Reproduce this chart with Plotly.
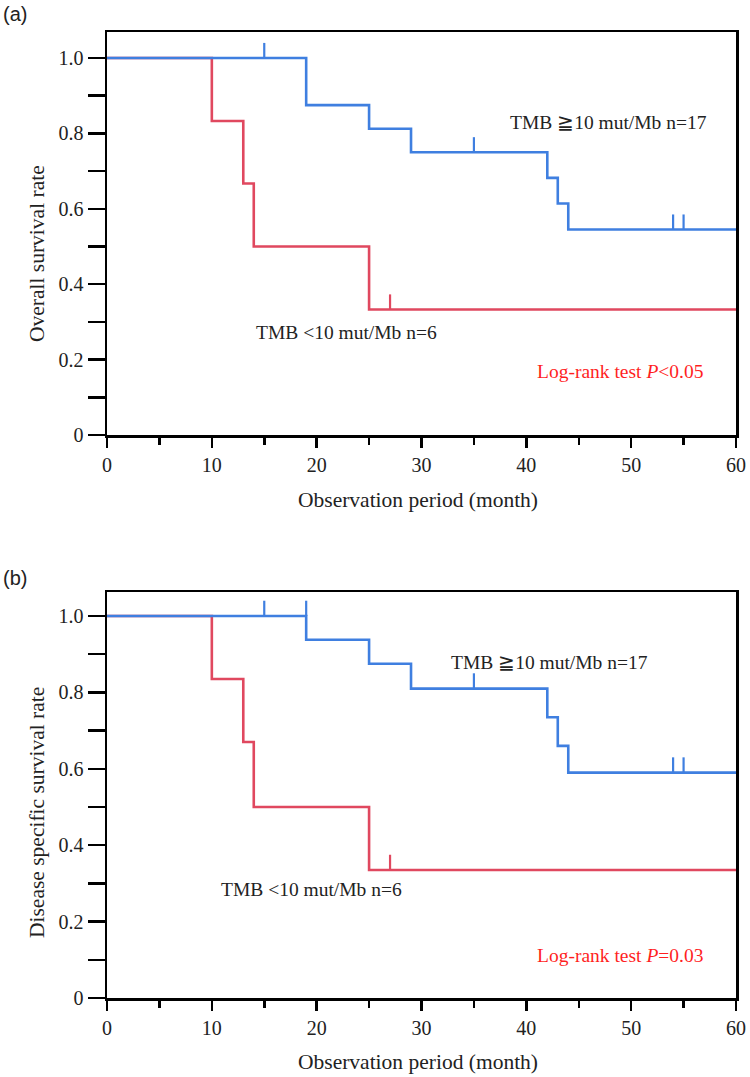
import plotly.graph_objects as go

W, H = 750, 1077

# ---------------- data ----------------
# (a) Overall survival
os_high_time = [0, 19, 25, 29, 42, 43, 44, 60]
os_high_surv = [1.0, 0.875, 0.8125, 0.75, 0.682, 0.614, 0.545, 0.545]
os_high_censor = [15, 35, 54, 55]

os_low_time = [0, 10, 13, 14, 25, 60]
os_low_surv = [1.0, 0.833, 0.667, 0.5, 0.333, 0.333]
os_low_censor = [27]

# (b) Disease specific survival
dss_high_time = [0, 19, 25, 29, 42, 43, 44, 60]
dss_high_surv = [1.0, 0.938, 0.875, 0.81, 0.735, 0.66, 0.59, 0.59]
dss_high_censor = [15, 19, 35, 54, 55]

dss_low_time = [0, 10, 13, 14, 25, 60]
dss_low_surv = [1.0, 0.835, 0.67, 0.5, 0.335, 0.335]
dss_low_censor = [27]

x_ticks = [0, 10, 20, 30, 40, 50, 60]
x_minor = [5, 15, 25, 35, 45, 55]
y_ticks = [0, 0.1, 0.2, 0.3, 0.4, 0.5, 0.6, 0.7, 0.8, 0.9, 1.0]
y_ticktext = ["0", "", "0.2", "", "0.4", "", "0.6", "", "0.8", "", "1.0"]

BLUE = "#3f7fe0"
RED = "#e0485f"
LR_RED = "#ff1f1f"
INK = "#222222"
SERIF = "Liberation Serif"
SANS = "Liberation Sans"


def level_at(times, surv, c):
    idx = max(i for i, t in enumerate(times) if t < c)
    return surv[idx]


def censor_xy(times, surv, cens, h):
    xs, ys = [], []
    for c in cens:
        lv = level_at(times, surv, c)
        xs += [c, c, None]
        ys += [lv, lv + h, None]
    return xs, ys


fig = go.Figure()

panels = [
    ("x", "y", os_high_time, os_high_surv, os_high_censor,
     os_low_time, os_low_surv, os_low_censor, 0.040),
    ("x2", "y2", dss_high_time, dss_high_surv, dss_high_censor,
     dss_low_time, dss_low_surv, dss_low_censor, 0.040),
]

for xa, ya, ht, hs, hc, lt, ls, lc, ch in panels:
    fig.add_trace(go.Scatter(x=lt, y=ls, mode="lines", line_shape="hv",
                             line=dict(color=RED, width=2.6),
                             xaxis=xa, yaxis=ya, showlegend=False, hoverinfo="skip"))
    cx, cy = censor_xy(lt, ls, lc, ch)
    fig.add_trace(go.Scatter(x=cx, y=cy, mode="lines",
                             line=dict(color=RED, width=2.2),
                             xaxis=xa, yaxis=ya, showlegend=False, hoverinfo="skip"))
    fig.add_trace(go.Scatter(x=ht, y=hs, mode="lines", line_shape="hv",
                             line=dict(color=BLUE, width=2.6),
                             xaxis=xa, yaxis=ya, showlegend=False, hoverinfo="skip"))
    cx, cy = censor_xy(ht, hs, hc, ch)
    fig.add_trace(go.Scatter(x=cx, y=cy, mode="lines",
                             line=dict(color=BLUE, width=2.2),
                             xaxis=xa, yaxis=ya, showlegend=False, hoverinfo="skip"))

# pixel layout
L, R = 107, 736
T, B = 32, 998
PH = B - T


def ydom(top_px, bot_px):
    return [(B - bot_px) / PH, (B - top_px) / PH]


def xaxis_cfg(anchor):
    return dict(domain=[0, 1], range=[0, 60], anchor=anchor, automargin=False,
                tickvals=x_ticks, ticks="outside", ticklen=10, tickwidth=2.5, tickcolor="black",
                minor=dict(tickvals=x_minor, ticks="outside", ticklen=7, tickwidth=2.5,
                           tickcolor="black", showgrid=False),
                showline=True, linewidth=2.5, linecolor="black", mirror=True,
                showgrid=False, zeroline=False,
                tickfont=dict(family=SERIF, size=20, color=INK))


def yaxis_cfg(anchor, dom, top):
    return dict(domain=dom, range=[0, top], anchor=anchor, automargin=False,
                tickvals=y_ticks, ticktext=y_ticktext,
                ticks="outside", ticklen=17, tickwidth=2.5, tickcolor="black",
                showline=True, linewidth=2.5, linecolor="black", mirror=True,
                showgrid=False, zeroline=False,
                tickfont=dict(family=SERIF, size=20, color=INK))


fig.update_layout(
    width=W, height=H,
    margin=dict(l=L, r=W - R, t=T, b=H - B, autoexpand=False),
    paper_bgcolor="white", plot_bgcolor="white",
    xaxis=xaxis_cfg("y"),
    xaxis2=xaxis_cfg("y2"),
    yaxis=yaxis_cfg("x", ydom(32, 435), 403 / 377),
    yaxis2=yaxis_cfg("x2", ydom(592, 998), 406 / 382),
)

ann = []


def add_px_text(text, xp, yp, font, xanchor="center", angle=0):
    ann.append(dict(text=text, xref="paper", yref="paper", x=(xp - L) / (R - L),
                    y=(B - yp) / PH, xanchor=xanchor, yanchor="middle",
                    showarrow=False, textangle=angle, font=font))


title_font = dict(family=SERIF, size=21.5, color=INK)
add_px_text("(a)", 1, 14, dict(family=SANS, size=20, color=INK), xanchor="left")
add_px_text("(b)", 1, 578, dict(family=SANS, size=20, color=INK), xanchor="left")
add_px_text("Overall survival rate", 37, 254, title_font, angle=-90)
add_px_text("Disease specific survival rate", 37, 813, title_font, angle=-90)
add_px_text("Observation period (month)", 418, 500, title_font)
add_px_text("Observation period (month)", 418, 1062, title_font)

txt_font = dict(family=SERIF, size=19.5, color=INK)
lr_font = dict(family=SERIF, size=19.5, color=LR_RED)

ann += [
    dict(text="TMB ≧10 mut/Mb n=17", xref="x", yref="y", x=47.8, y=0.828,
         showarrow=False, font=txt_font),
    dict(text="TMB &lt;10 mut/Mb n=6", xref="x", yref="y", x=22.8, y=0.271,
         showarrow=False, font=txt_font),
    dict(text="Log-rank test <i>P</i>&lt;0.05", xref="x", yref="y", x=48.9, y=0.169,
         showarrow=False, font=lr_font),
    dict(text="TMB ≧10 mut/Mb n=17", xref="x2", yref="y2", x=42.2, y=0.877,
         showarrow=False, font=txt_font),
    dict(text="TMB &lt;10 mut/Mb n=6", xref="x2", yref="y2", x=19.5, y=0.283,
         showarrow=False, font=txt_font),
    dict(text="Log-rank test <i>P</i>=0.03", xref="x2", yref="y2", x=48.9, y=0.11,
         showarrow=False, font=lr_font),
]
fig.update_layout(annotations=ann)

fig.write_html("out.html",
               config={"displayModeBar": False, "staticPlot": True},
               post_script="document.body.style.margin='0';document.body.style.overflow='hidden';")
